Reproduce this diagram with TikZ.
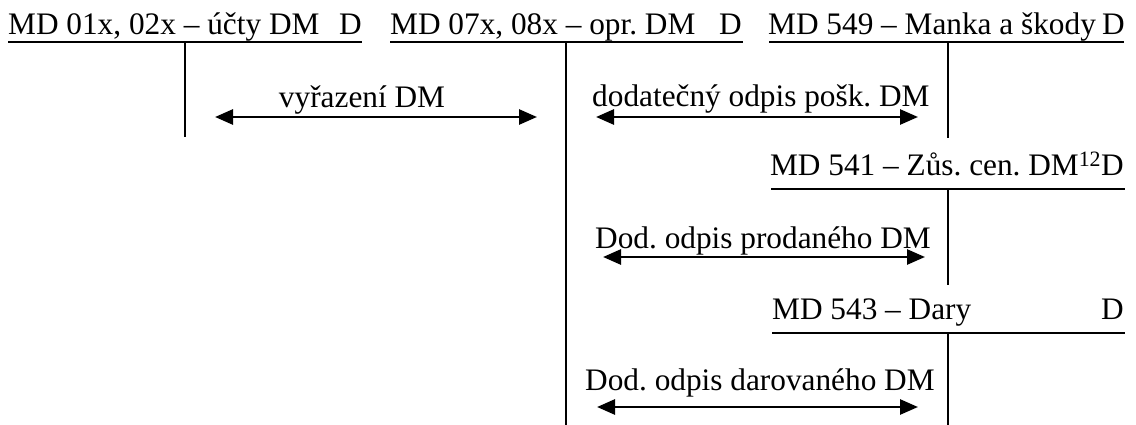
\documentclass[tikz,border=0pt]{standalone}
\usepackage{fontspec}
\setmainfont{Liberation Serif}
\usetikzlibrary{arrows.meta}
\begin{document}
\frenchspacing
\begin{tikzpicture}[x=1pt,y=-1pt,
  every node/.style={inner sep=0pt, font=\fontsize{31.3}{37}\selectfont},
  acct/.style={line width=2pt},
  flow/.style={line width=2.8pt, {Triangle[length=18pt,width=15pt]}-{Triangle[length=18pt,width=15pt]}}]
\useasboundingbox (0,0) rectangle (1136,425);
% account 1
\node[anchor=base west] (t1) at (8,35) {MD 01x, 02x – účty DM};
\node[anchor=base east] (d1) at (362,35) {D};
\coordinate (u1l) at (8,42); \coordinate (u1r) at (362,42);
\coordinate (v1t) at (185,42); \coordinate (v1b) at (185,137);
\draw[acct] (u1l) -- (u1r);
\draw[acct] (v1t) -- (v1b);
% account 2
\node[anchor=base west] (t2) at (390,35) {MD 07x, 08x – opr. DM};
\node[anchor=base east] (d2) at (742,35) {D};
\coordinate (u2l) at (390,42); \coordinate (u2r) at (743,42);
\coordinate (v2t) at (566,42); \coordinate (v2b) at (566,425);
\draw[acct] (u2l) -- (u2r);
\draw[acct] (v2t) -- (v2b);
% account 3
\node[anchor=base west] (t3) at (768,35) {MD 549 – Manka a škody};
\node[anchor=base east] (d3) at (1125,35) {D};
\coordinate (u3l) at (769,42); \coordinate (u3r) at (1124,42);
\coordinate (v3t) at (948,42); \coordinate (v3b) at (948,138);
\draw[acct] (u3l) -- (u3r);
\draw[acct] (v3t) -- (v3b);
% account 4
\node[anchor=base east] (t4) at (1124,176) {MD 541 – Zůs. cen. DM\textsuperscript{12}D};
\coordinate (u4l) at (771,189); \coordinate (u4r) at (1125,189);
\coordinate (v4t) at (948,189); \coordinate (v4b) at (948,285);
\draw[acct] (u4l) -- (u4r);
\draw[acct] (v4t) -- (v4b);
% account 5
\node[anchor=base west] (t5) at (772,319) {MD 543 – Dary};
\node[anchor=base east] (d5) at (1124,319) {D};
\coordinate (u5l) at (772,333); \coordinate (u5r) at (1125,333);
\coordinate (v5t) at (948,333); \coordinate (v5b) at (948,425);
\draw[acct] (u5l) -- (u5r);
\draw[acct] (v5t) -- (v5b);
% flows
\node[anchor=base] (l1) at (362,108) {vyřazení DM};
\coordinate (a1l) at (215,117); \coordinate (a1r) at (537,117);
\draw[flow] (a1l) -- (a1r);
\node[anchor=base west] (l2) at (592,107) {dodatečný odpis pošk. DM};
\coordinate (a2l) at (596,117); \coordinate (a2r) at (918,117);
\draw[flow] (a2l) -- (a2r);
\node[anchor=base west] (l3) at (595,248) {Dod. odpis prodaného DM};
\coordinate (a3l) at (603,257); \coordinate (a3r) at (925,257);
\draw[flow] (a3l) -- (a3r);
\node[anchor=base west] (l4) at (585,390) {Dod. odpis darovaného DM};
\coordinate (a4l) at (597,407); \coordinate (a4r) at (918,407);
\draw[flow] (a4l) -- (a4r);
\end{tikzpicture}
\end{document}
